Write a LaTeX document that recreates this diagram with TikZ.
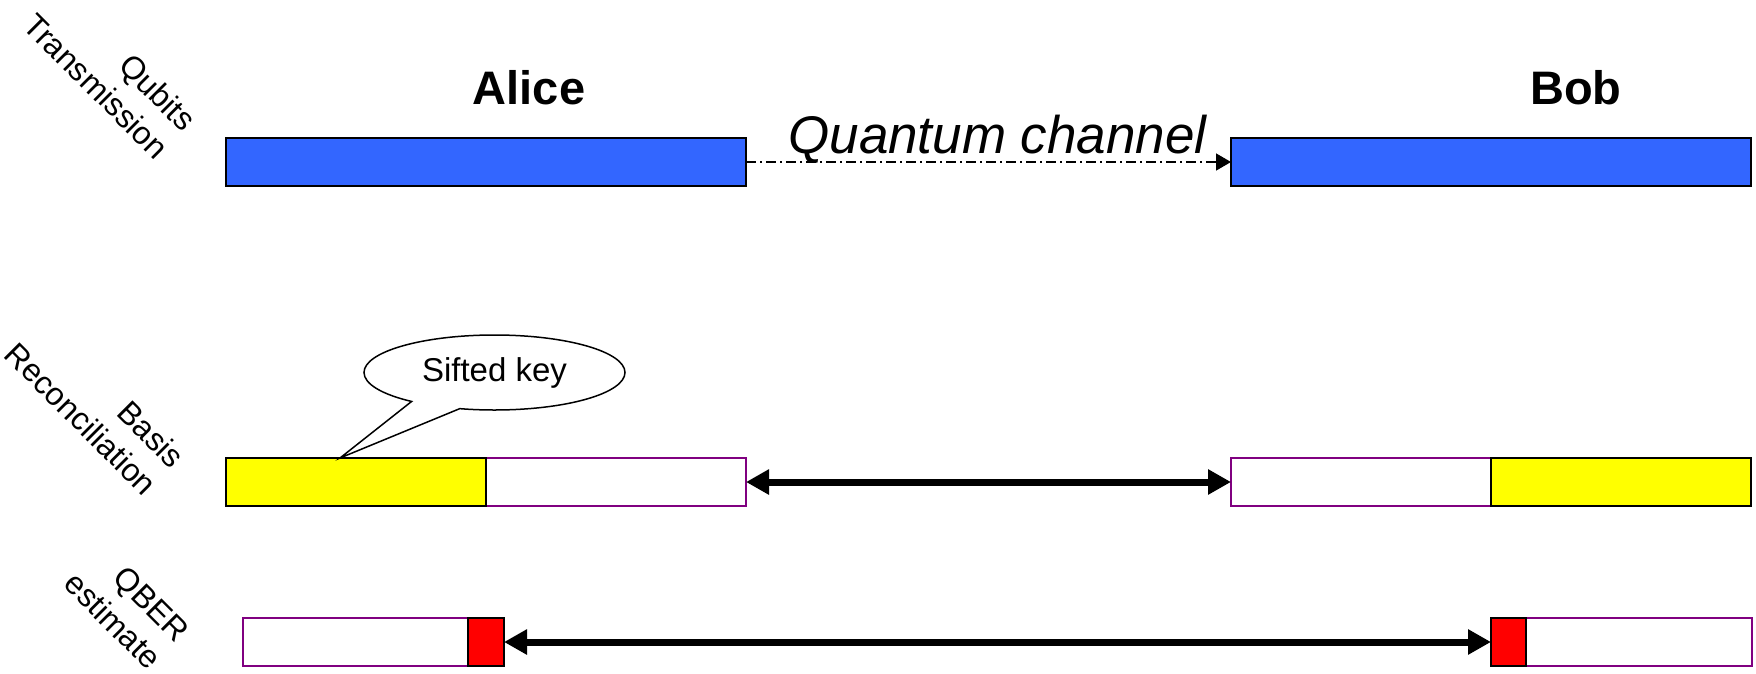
\documentclass[tikz,border=0pt]{standalone}
\usepackage{fontspec}
\setmainfont{Liberation Sans}
\usetikzlibrary{arrows.meta,shapes.callouts,calc}
\definecolor{qblue}{RGB}{51,102,255}
\definecolor{keyyellow}{RGB}{255,255,0}
\definecolor{errred}{RGB}{255,0,0}
\definecolor{framepurple}{RGB}{128,0,128}

\begin{document}
\begin{tikzpicture}[x=1pt, y=-1pt,
  bar/.style={draw=black, line width=2pt, inner sep=0pt, outer sep=0pt,
              anchor=north west, minimum height=48pt},
  emptybar/.style={bar, draw=framepurple, fill=white},
  party/.style={font=\fontsize{47}{56}\selectfont\bfseries, anchor=base},
  phase/.style={font=\fontsize{32}{39}\selectfont, align=right, rotate=-45, inner sep=0pt},
  exchange/.style={line width=7pt,
    {Triangle[length=23pt,width=24pt]}-{Triangle[length=23pt,width=24pt]}},
]
\useasboundingbox (0,0) rectangle (1756,673);

% phase labels on the left
\node[phase] (lbltx) at (110,72) {Qubits\\Transmission};
\node[phase] (lblbr) at (95,405) {Basis\\Reconciliation};
\node[phase] (lblqb) at (127,607) {QBER\\estimate};

% parties
\node[party] (alice) at (529,104) {Alice};
\node[party] (bob) at (1576,104) {Bob};

% qubit transmission
\node[bar, fill=qblue, minimum width=520pt] (ab) at (226,138) {};
\node[bar, fill=qblue, minimum width=520pt] (bb) at (1231,138) {};
\draw[line width=1.5pt, dash pattern=on 10pt off 4pt on 2pt off 4pt,
      -{Triangle[length=15pt,width=17pt]}] (ab.east) -- (bb.west);
\node[font=\fontsize{53}{64}\selectfont\itshape, anchor=base] (qc)
  at ($(ab.east)!0.5!(bb.west)+(9,-9)$) {Quantum channel};

% basis reconciliation
\node[emptybar, minimum width=260pt] (aw) at (486,458) {};
\node[bar, fill=keyyellow, minimum width=260pt] (ay) at (226,458) {};
\node[emptybar, minimum width=260pt] (bw) at (1231,458) {};
\node[bar, fill=keyyellow, minimum width=260pt] (by) at (1491,458) {};
\draw[exchange] (aw.east) -- (bw.west);

% sifted key callout
\coordinate (tip) at ($(ay.north west)+(114,0)$);
\node[ellipse callout, draw=black, fill=white, line width=1.5pt,
      minimum width=261pt, minimum height=75pt, inner sep=0pt,
      callout absolute pointer={(tip)}, callout pointer arc=24,
      font=\fontsize{33}{40}\selectfont] (sift) at (494.5,372.5) {Sifted key};

% QBER estimate
\node[emptybar, minimum width=225pt] (aq) at (243,618) {};
\node[bar, fill=errred, minimum width=36pt] (ar) at (468,618) {};
\node[emptybar, minimum width=226pt] (bq) at (1526,618) {};
\node[bar, fill=errred, minimum width=35pt] (br) at (1491,618) {};
\draw[exchange] (ar.east) -- (br.west);
\end{tikzpicture}
\end{document}
